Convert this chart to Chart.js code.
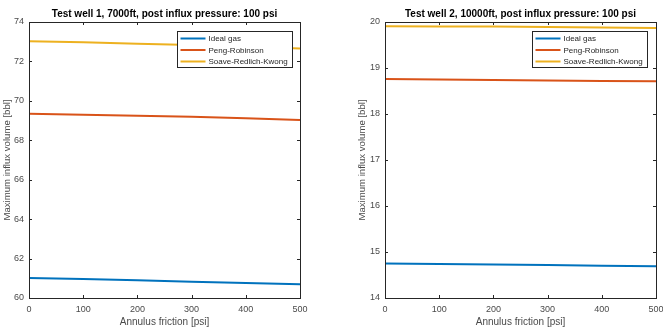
<!DOCTYPE html>
<html>
<head>
<meta charset="utf-8">
<script src="https://cdn.jsdelivr.net/npm/chart.js@4"></script>
<style>
  body { margin: 0; background: #fff; }
  #wrap { position: relative; width: 663px; height: 336px; }
  canvas { position: absolute; top: 0; }
</style>
</head>
<body>
<div id="wrap">
  <canvas id="well1" width="331" height="336" style="left:0"></canvas>
  <canvas id="well2" width="332" height="336" style="left:331px"></canvas>
</div>
<script>
// datos
const frictionPsi = [0, 100, 200, 300, 400, 500];
const seriesNames = ['Ideal gas', 'Peng-Robinson', 'Soave-Redlich-Kwong'];

const well1Ideal = [61.02, 60.97, 60.90, 60.83, 60.76, 60.70];
const well1PR    = [69.35, 69.30, 69.24, 69.19, 69.12, 69.03];
const well1SRK   = [73.02, 72.97, 72.90, 72.83, 72.76, 72.66];

const well2Ideal = [14.75, 14.74, 14.73, 14.72, 14.70, 14.69];
const well2PR    = [18.76, 18.75, 18.74, 18.73, 18.72, 18.71];
const well2SRK   = [19.91, 19.90, 19.90, 19.89, 19.88, 19.87];

const colors = ['#0072BD', '#D95319', '#EDB120'];
const axisColor = '#262626';
const labelColor = '#4a4a4a';
const fontFam = '"Liberation Sans", Arial, sans-serif';

// titulo, marco, ticks hacia adentro y leyenda estilo MATLAB
const matlabFrame = {
  id: 'matlabFrame',
  afterDraw(chart, args, opts) {
    const ctx = chart.ctx;
    const a = chart.chartArea;
    const xs = chart.scales.x, ys = chart.scales.y;
    ctx.save();
    // marco
    ctx.strokeStyle = axisColor;
    ctx.lineWidth = 1;
    ctx.strokeRect(Math.round(a.left) + 0.5, Math.round(a.top) + 0.5,
                   Math.round(a.right - a.left), Math.round(a.bottom - a.top));
    // ticks
    ctx.beginPath();
    xs.ticks.forEach(t => {
      const px = Math.round(xs.getPixelForValue(t.value)) + 0.5;
      ctx.moveTo(px, a.bottom); ctx.lineTo(px, a.bottom - 3);
      ctx.moveTo(px, a.top); ctx.lineTo(px, a.top + 3);
    });
    ys.ticks.forEach(t => {
      const py = Math.round(ys.getPixelForValue(t.value)) + 0.5;
      ctx.moveTo(a.left, py); ctx.lineTo(a.left + 3, py);
      ctx.moveTo(a.right, py); ctx.lineTo(a.right - 3, py);
    });
    ctx.stroke();
    // titulo
    ctx.fillStyle = '#000';
    ctx.font = 'bold 10px ' + fontFam;
    ctx.textAlign = 'center';
    ctx.textBaseline = 'middle';
    ctx.fillText(opts.text, (a.left + a.right) / 2, 14);
    // leyenda
    const bw = 115, bh = 36;
    const bx = Math.round(a.right - opts.legendRight - bw) + 0.5;
    const by = Math.round(a.top + 9) + 0.5;
    ctx.fillStyle = '#fff';
    ctx.fillRect(bx, by, bw, bh);
    ctx.strokeStyle = axisColor;
    ctx.strokeRect(bx, by, bw, bh);
    ctx.font = '8px ' + fontFam;
    ctx.textAlign = 'left';
    chart.data.datasets.forEach((ds, i) => {
      const cy = by + 7 + i * 11.5;
      ctx.strokeStyle = ds.borderColor;
      ctx.lineWidth = 2;
      ctx.beginPath();
      ctx.moveTo(bx + 3, cy); ctx.lineTo(bx + 28, cy);
      ctx.stroke();
      ctx.fillStyle = axisColor;
      ctx.fillText(ds.label, bx + 31, cy + 0.5);
    });
    ctx.restore();
  }
};

function makeChart(id, title, values, yMin, yMax, yStep, pad, yWidth, legendRight) {
  const datasets = values.map((vals, i) => ({
    label: seriesNames[i],
    data: frictionPsi.map((x, j) => ({ x: x, y: vals[j] })),
    borderColor: colors[i],
    backgroundColor: colors[i],
    borderWidth: 2,
    pointRadius: 0,
    tension: 0,
    fill: false
  }));
  return new Chart(document.getElementById(id), {
    type: 'line',
    data: { datasets: datasets },
    options: {
      responsive: false,
      animation: false,
      layout: { padding: pad },
      plugins: {
        legend: { display: false },
        tooltip: { enabled: false },
        matlabFrame: { text: title, legendRight: legendRight }
      },
      scales: {
        x: {
          type: 'linear',
          min: 0, max: 500,
          grid: { display: false, drawTicks: false },
          border: { display: false },
          ticks: { stepSize: 100, color: labelColor, font: { size: 9, family: fontFam }, padding: 6, maxRotation: 0 },
          title: { display: true, text: 'Annulus friction [psi]', color: labelColor, font: { size: 10, family: fontFam }, padding: 0 },
          afterFit(scale) { scale.height = 30; scale.paddingLeft = 0; scale.paddingRight = 0; }
        },
        y: {
          min: yMin, max: yMax,
          grid: { display: false, drawTicks: false },
          border: { display: false },
          ticks: { stepSize: yStep, color: labelColor, font: { size: 9, family: fontFam }, padding: 5 },
          title: { display: true, text: 'Maximum influx volume [bbl]', color: labelColor, font: { size: 9.6, family: fontFam }, padding: { top: 2, bottom: 0 } },
          afterFit(scale) { scale.width = yWidth; scale.paddingTop = 0; scale.paddingBottom = 0; }
        }
      }
    },
    plugins: [matlabFrame]
  });
}

makeChart('well1', 'Test well 1, 7000ft, post influx pressure: 100 psi',
  [well1Ideal, well1PR, well1SRK], 60, 74, 2,
  { top: 22, left: 0, right: 31, bottom: 8 }, 29, 8);

makeChart('well2', 'Test well 2, 10000ft, post influx pressure: 100 psi',
  [well2Ideal, well2PR, well2SRK], 14, 20, 1,
  { top: 22, left: 24, right: 7, bottom: 8 }, 30, 9);
</script>
</body>
</html>
